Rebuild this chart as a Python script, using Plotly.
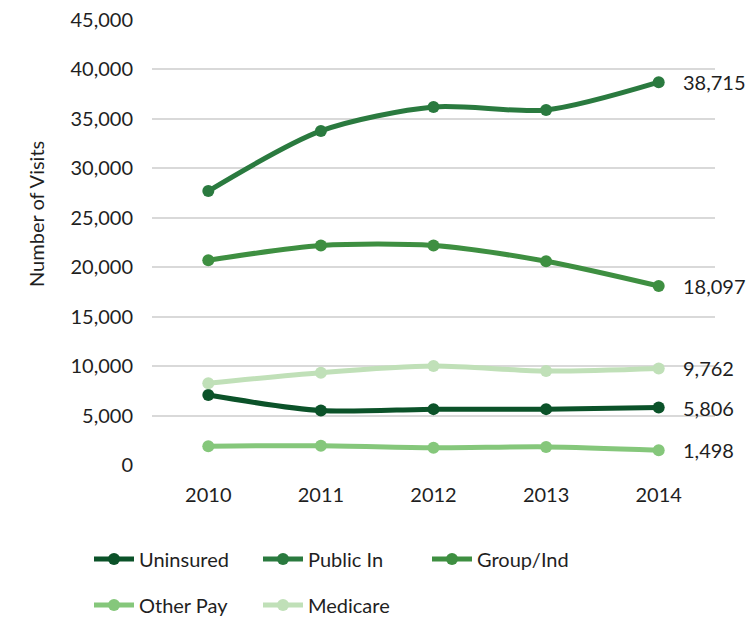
import plotly.graph_objects as go

# Annual visit counts by payer type
years = ["2010", "2011", "2012", "2013", "2014"]
uninsured = [7070, 5500, 5650, 5650, 5806]
public_in = [27700, 33780, 36200, 35900, 38715]
group_ind = [20700, 22200, 22200, 20600, 18097]
other_pay = [1900, 1950, 1740, 1830, 1498]
medicare = [8270, 9340, 10000, 9500, 9762]

series = [
    ("Uninsured", uninsured, "#0b5229", "legend"),
    ("Public In", public_in, "#2a7a3f", "legend"),
    ("Group/Ind", group_ind, "#3e8f41", "legend"),
    ("Other Pay", other_pay, "#85c77b", "legend2"),
    ("Medicare", medicare, "#c0e0b8", "legend2"),
]

FONT = "Lato, Open Sans, sans-serif"
TXT = "#1f1f1f"

fig = go.Figure()
last = len(years) - 1
for name, vals, color, lg in series:
    fig.add_trace(go.Scatter(
        x=years, y=vals, name=name, mode="lines+markers",
        line=dict(color=color, width=5, shape="spline", smoothing=0.8),
        marker=dict(color=color, size=12),
        legend=lg, cliponaxis=False,
    ))
    # value label at the last year (category index on the x axis)
    fig.add_annotation(
        x=last, y=vals[last], text=f"{vals[last]:,}", showarrow=False,
        xanchor="left", yanchor="middle", xshift=22,
        font=dict(family=FONT, size=20, color=TXT),
    )

L, R, T, B = 152, 35, 20, 153
W, H = 750, 618
pw, ph = W - L - R, H - T - B

def px_x(p):
    return (p - L) / pw

def px_y(p):
    return (H - B - p) / ph

fig.add_annotation(
    xref="paper", yref="paper", x=px_x(22), y=px_y(214),
    text="Number of Visits", textangle=-90, showarrow=False,
    font=dict(family=FONT, size=20, color=TXT),
)

legend_style = dict(
    orientation="h", xanchor="left", yanchor="middle",
    entrywidth=114, entrywidthmode="pixels", itemwidth=40,
    font=dict(family=FONT, size=20, color=TXT),
    bgcolor="rgba(0,0,0,0)",
)

fig.update_layout(
    width=W, height=H,
    margin=dict(l=L, r=R, t=T, b=B, autoexpand=False),
    plot_bgcolor="white", paper_bgcolor="white",
    font=dict(family=FONT, size=20, color=TXT),
    showlegend=True,
    legend=dict(x=px_x(89), y=px_y(559), **legend_style),
    legend2=dict(x=px_x(89), y=px_y(605), **legend_style),
    xaxis=dict(
        type="category", range=[-0.5, 4.5], showgrid=False,
        showline=False, zeroline=False, ticks="",
        ticklabelstandoff=16,
        tickfont=dict(family=FONT, size=20, color=TXT),
    ),
    yaxis=dict(
        range=[0, 45000], dtick=5000, tickformat=",",
        showgrid=True, gridcolor="#d9d9d9", gridwidth=1.5,
        showline=False, zeroline=False, ticks="",
        ticklabelstandoff=18,
        tickfont=dict(family=FONT, size=20, color=TXT),
    ),
)

fig.write_html("out.html")
